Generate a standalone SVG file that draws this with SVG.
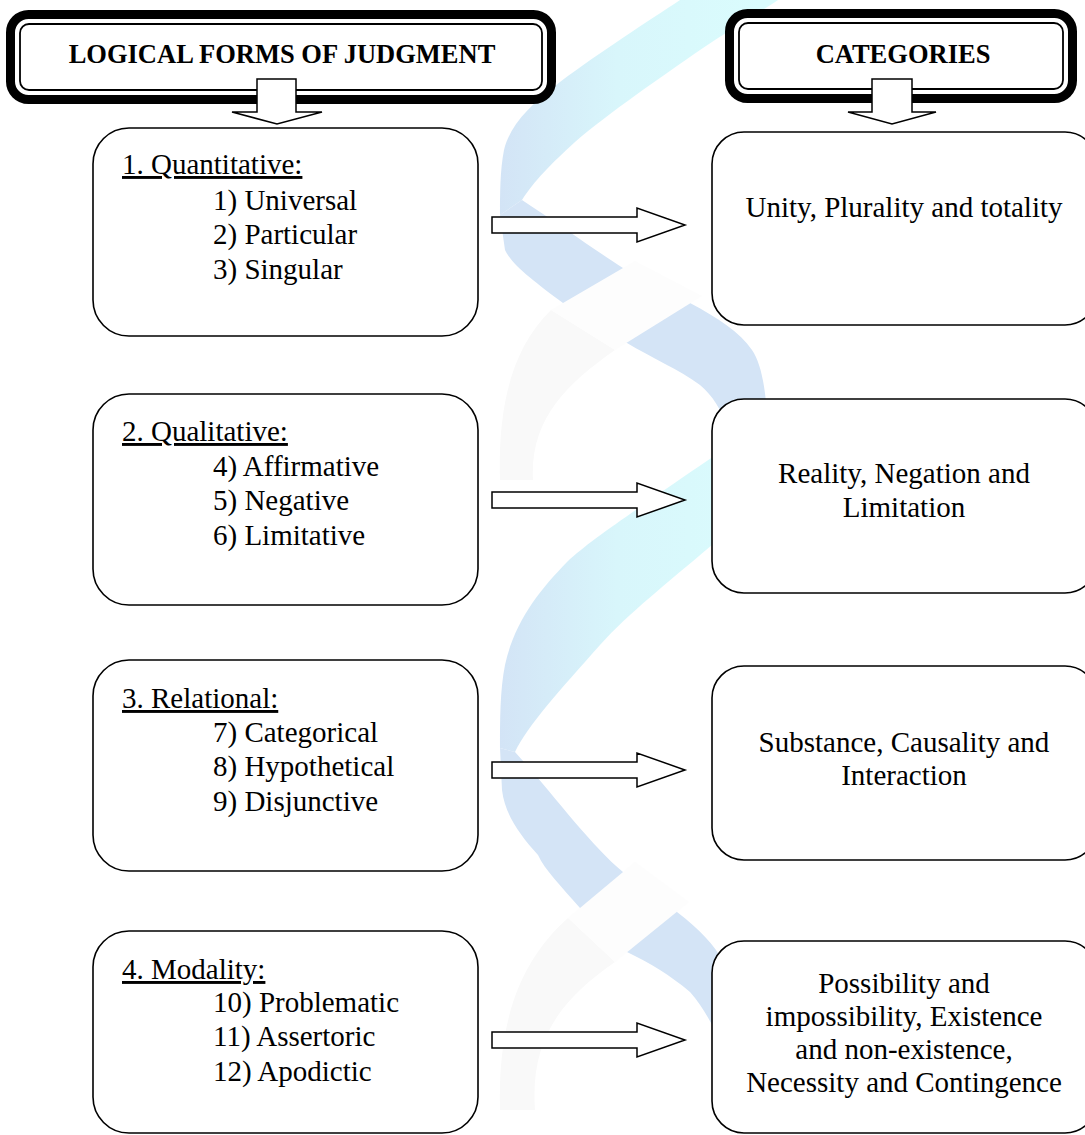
<svg xmlns="http://www.w3.org/2000/svg" width="1085" height="1135" viewBox="0 0 1085 1135">
<defs>
<style>
.box{fill:#fff;stroke:#000;stroke-width:1.6}
.hdo{fill:#fff;stroke:#000;stroke-width:9}
.hdi{fill:none;stroke:#000;stroke-width:1.8}
.arrow{fill:#fff;stroke:#000;stroke-width:1.5;stroke-linejoin:miter}
.t{font-family:"Liberation Serif","Times New Roman",serif;font-size:29px;fill:#000}
.h{font-weight:bold;font-size:26.5px}
.u{text-decoration:underline}
.c{text-anchor:middle}
.blue{fill:#d4e4f6}
.faint{fill:#f9f9f9}
.gap{fill:#fdfdfd}
</style>
<linearGradient id="cyanG" x1="500" y1="0" x2="760" y2="0" gradientUnits="userSpaceOnUse">
<stop offset="0" stop-color="#d3e4f6"/>
<stop offset="0.45" stop-color="#d8f6fb"/>
<stop offset="1" stop-color="#dafcfd"/>
</linearGradient>
</defs>
<rect x="0" y="0" width="1085" height="1135" fill="#fff"/>

<g id="watermark">
<path class="faint" d="M551,310 L615,350 C565,385 530,420 533,480 L500,480 C498,410 510,350 551,310 Z"/>
<path class="faint" d="M568,918 L615,962 C560,1000 530,1040 535,1110 L500,1110 C498,1030 515,965 568,918 Z"/>
<path fill="url(#cyanG)" d="M680,0 C650,20 600,52 560,82 C530,105 510,125 504,150 C500,170 500,195 500,215 L522,200 C535,180 550,165 575,142 C610,112 660,78 700,50 C730,30 760,12 778,0 Z"/>
<path class="blue" d="M500,215 L522,200 C560,225 595,250 623,268 C650,283 672,292 690,303 C718,318 740,332 752,350 C762,365 766,390 768,430 L728,430 C722,410 712,395 700,385 C680,370 650,357 627,343 C600,328 580,318 563,303 C535,282 512,265 505,250 Z"/>
<path fill="url(#cyanG)" d="M770,420 C745,435 700,465 650,500 C610,528 585,545 567,562 C540,590 515,620 505,665 C500,690 500,720 500,748 L515,752 C528,725 560,690 600,645 C630,612 665,585 712,545 C740,522 770,500 795,482 Z"/>
<path class="blue" d="M500,748 L515,752 C550,790 590,845 623,872 C645,888 665,900 677,912 C700,930 715,945 723,962 C735,980 745,1000 750,1030 L718,1035 C712,1025 702,1005 690,992 C670,975 650,963 627,952 C610,940 595,925 580,908 C560,885 545,870 538,855 C520,835 505,815 502,790 Z"/>
<path class="gap" d="M635,261 L551,310 L615,350 L702,296 Z"/>
<path class="gap" d="M635,862 L568,918 L615,962 L689,902 Z"/>
</g>

<g id="header-judgment">
<rect class="hdo" x="10.5" y="14.5" width="541" height="85" rx="18"/>
<rect class="hdi" x="20" y="24" width="522" height="66" rx="9"/>
<text class="t h c" x="282" y="63">LOGICAL FORMS OF JUDGMENT</text>
</g>
<g id="header-categories">
<rect class="hdo" x="729.5" y="13.5" width="343" height="85" rx="18"/>
<rect class="hdi" x="739" y="23" width="324" height="66" rx="9"/>
<text class="t h c" x="903" y="63">CATEGORIES</text>
</g>

<g id="quantitative">
<rect class="box" x="93" y="128" width="385" height="208" rx="36"/>
<text class="t u" x="122" y="174">1. Quantitative:</text>
<text class="t" x="213" y="210">1) Universal</text>
<text class="t" x="213" y="244">2) Particular</text>
<text class="t" x="213" y="279">3) Singular</text>
</g>
<g id="qualitative">
<rect class="box" x="93" y="394" width="385" height="211" rx="36"/>
<text class="t u" x="122" y="441">2. Qualitative:</text>
<text class="t" x="213" y="476">4) Affirmative</text>
<text class="t" x="213" y="510">5) Negative</text>
<text class="t" x="213" y="545">6) Limitative</text>
</g>
<g id="relational">
<rect class="box" x="93" y="660" width="385" height="211" rx="36"/>
<text class="t u" x="122" y="708">3. Relational:</text>
<text class="t" x="213" y="742">7) Categorical</text>
<text class="t" x="213" y="776">8) Hypothetical</text>
<text class="t" x="213" y="811">9) Disjunctive</text>
</g>
<g id="modality">
<rect class="box" x="93" y="931" width="385" height="202" rx="36"/>
<text class="t u" x="122" y="979">4. Modality:</text>
<text class="t" x="213" y="1012">10) Problematic</text>
<text class="t" x="213" y="1046">11) Assertoric</text>
<text class="t" x="213" y="1081">12) Apodictic</text>
</g>

<g id="cat-quantity">
<rect class="box" x="712" y="132" width="385" height="193" rx="32"/>
<text class="t c" x="904" y="217">Unity, Plurality and totality</text>
</g>
<g id="cat-quality">
<rect class="box" x="712" y="399" width="385" height="194" rx="32"/>
<text class="t c" x="904" y="483">Reality, Negation and</text>
<text class="t c" x="904" y="517">Limitation</text>
</g>
<g id="cat-relation">
<rect class="box" x="712" y="666" width="385" height="194" rx="32"/>
<text class="t c" x="904" y="752">Substance, Causality and</text>
<text class="t c" x="904" y="785">Interaction</text>
</g>
<g id="cat-modality">
<rect class="box" x="712" y="941" width="385" height="192" rx="32"/>
<text class="t c" x="904" y="993">Possibility and</text>
<text class="t c" x="904" y="1026">impossibility, Existence</text>
<text class="t c" x="904" y="1059">and non-existence,</text>
<text class="t c" x="904" y="1092">Necessity and Contingence</text>
</g>

<g id="connectors">
<path class="arrow" d="M257,79 H296 V112 H322 L277,124 L232,112 H257 Z"/>
<path class="arrow" d="M872,79 H912 V112 H936 L892,124 L848,112 H872 Z"/>
<path class="arrow" d="M492,217 H637 V208 L685,225 L637,242 V233 H492 Z"/>
<path class="arrow" d="M492,492 H637 V483 L685,500 L637,517 V508 H492 Z"/>
<path class="arrow" d="M492,762 H637 V753 L685,770 L637,787 V778 H492 Z"/>
<path class="arrow" d="M492,1032 H637 V1023 L685,1040 L637,1057 V1048 H492 Z"/>
</g>
</svg>
